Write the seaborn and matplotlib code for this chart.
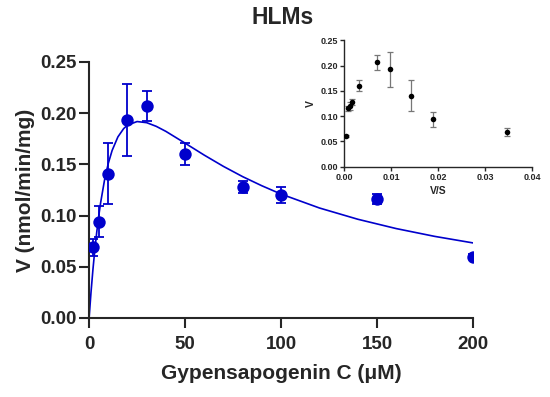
import numpy as np
import pandas as pd
import seaborn as sns
import matplotlib.pyplot as plt

# main data: substrate concentration (uM), velocity, SD
conc = [2, 5, 10, 20, 30, 50, 80, 100, 150, 200]
velocity = [0.069, 0.094, 0.141, 0.193, 0.207, 0.160, 0.128, 0.120, 0.116, 0.060]
sd = [0.008, 0.015, 0.030, 0.035, 0.015, 0.011, 0.006, 0.008, 0.005, 0.002]

# fitted curve
curve_s = [0, 1, 2, 3, 4, 5, 6, 8, 10, 12, 15, 18, 20, 25, 30, 35, 40, 50,
           60, 70, 80, 90, 100, 120, 140, 160, 180, 200]
curve_v = [0.0, 0.0252, 0.0474, 0.0669, 0.0841, 0.0992, 0.1125, 0.1343, 0.1510,
           0.1636, 0.1768, 0.1849, 0.1883, 0.1918, 0.1907, 0.1871, 0.1822, 0.1707,
           0.1590, 0.1480, 0.1380, 0.1291, 0.1210, 0.1074, 0.0964, 0.0873, 0.0797,
           0.0733]

# Eadie-Hofstee inset
vs = [0.0345, 0.0188, 0.0141, 0.00965, 0.0069, 0.0032, 0.0016, 0.0012, 0.00077, 0.0003]
v_in = [0.069, 0.094, 0.141, 0.193, 0.207, 0.160, 0.128, 0.120, 0.116, 0.060]
sd_in = [0.008, 0.015, 0.030, 0.035, 0.015, 0.011, 0.006, 0.008, 0.005, 0.002]

df = pd.DataFrame({'S': conc, 'V': velocity, 'SD': sd})
df_curve = pd.DataFrame({'S': curve_s, 'V': curve_v})
df_in = pd.DataFrame({'VS': vs, 'V': v_in, 'SD': sd_in})

sns.set_style('ticks')
plt.rcParams['font.family'] = ['Liberation Sans', 'DejaVu Sans']
plt.rcParams['font.weight'] = 'bold'

blue = '#0000CC'

fig = plt.figure(figsize=(5.5, 3.97), dpi=100)
ax = fig.add_axes([0.162, 0.199, 0.698, 0.645])

sns.lineplot(data=df_curve, x='S', y='V', color=blue, lw=1.2, ax=ax)
ax.errorbar(df['S'], df['V'], yerr=df['SD'], fmt='none', ecolor=blue,
            elinewidth=1.3, capsize=3.6, capthick=1.3)
sns.scatterplot(data=df, x='S', y='V', color=blue, s=80, edgecolor=blue,
                linewidth=0, ax=ax, zorder=5)

ax.set_xlim(0, 200)
ax.set_ylim(0, 0.25)
ax.set_xticks([0, 50, 100, 150, 200])
ax.set_yticks([0, 0.05, 0.10, 0.15, 0.20, 0.25])
ax.set_yticklabels(['0.00', '0.05', '0.10', '0.15', '0.20', '0.25'])
ax.tick_params(labelsize=13.5, width=1.5, length=7)
ax.tick_params(axis='x', pad=6)
ax.tick_params(axis='y', pad=2)
for lab in ax.get_xticklabels() + ax.get_yticklabels():
    lab.set_fontweight('bold')
for side in ['left', 'bottom']:
    ax.spines[side].set_linewidth(1.5)
sns.despine(ax=ax)
ax.set_xlabel('Gypensapogenin C (μM)', fontsize=15, fontweight='bold', labelpad=8)
ax.set_ylabel('V (nmol/min/mg)', fontsize=15, fontweight='bold', labelpad=4)
fig.suptitle('HLMs', x=0.513, y=0.985, fontsize=16.5, fontweight='bold')

# inset
axi = fig.add_axes([0.626, 0.580, 0.342, 0.318])
axi.errorbar(df_in['VS'], df_in['V'], yerr=df_in['SD'], fmt='none', ecolor='#777777',
             elinewidth=0.9, capsize=2.2, capthick=0.9)
sns.scatterplot(data=df_in, x='VS', y='V', color='black', s=16, linewidth=0,
                ax=axi, zorder=5)
axi.set_xlim(0, 0.04)
axi.set_ylim(0, 0.25)
axi.set_xticks([0, 0.01, 0.02, 0.03, 0.04])
axi.set_xticklabels(['0.00', '0.01', '0.02', '0.03', '0.04'])
axi.set_yticks([0, 0.05, 0.10, 0.15, 0.20, 0.25])
axi.set_yticklabels(['0.00', '0.05', '0.10', '0.15', '0.20', '0.25'])
axi.tick_params(labelsize=6.5, width=1, length=3, pad=1.5)
for lab in axi.get_xticklabels() + axi.get_yticklabels():
    lab.set_fontweight('bold')
for side in ['left', 'bottom']:
    axi.spines[side].set_linewidth(1.0)
sns.despine(ax=axi)
axi.set_xlabel('V/S', fontsize=7.5, fontweight='bold', labelpad=3)
axi.set_ylabel('V', fontsize=7.5, fontweight='bold', labelpad=3)

fig.savefig('out.png', dpi=100)
